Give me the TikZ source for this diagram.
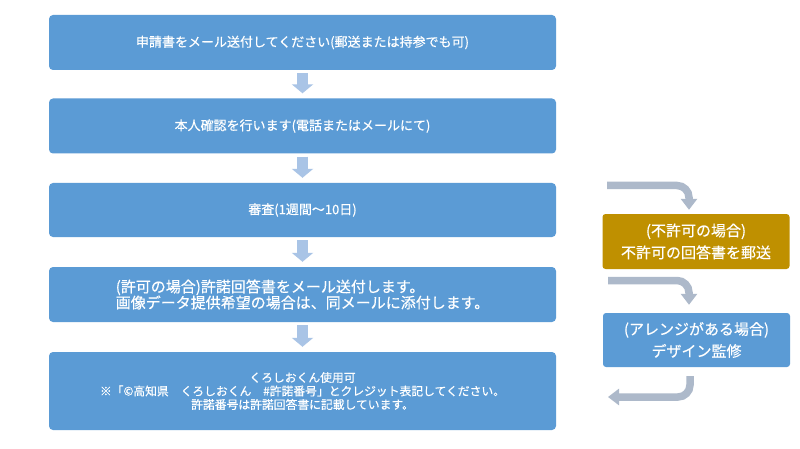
\documentclass[tikz,border=0pt]{standalone}
\usepackage{fontspec}
\newfontfamily\jp[FakeBold=0.4]{Noto Sans CJK JP}
\usetikzlibrary{arrows.meta}
\definecolor{boxblue}{HTML}{5B9BD5}
\definecolor{boxgold}{HTML}{BF9000}
\definecolor{downarr}{HTML}{A9C4E6}
\definecolor{sidearr}{HTML}{ADB9CA}
\begin{document}
\begin{tikzpicture}[x=1pt,y=-1pt,
  stepbox/.style={rectangle, rounded corners=4pt, fill=boxblue, text=white, inner sep=0pt,
    minimum width=507pt, align=center, font=\jp\fontsize{13}{16}\selectfont},
  sidebox/.style={rectangle, rounded corners=3pt, text=white, inner sep=0pt,
    minimum width=187pt, minimum height=54pt, align=center, font=\jp\fontsize{15}{22}\selectfont},
  downarrow/.style={draw=downarr, line width=11pt, -{Triangle[length=9pt,width=21pt]},
    shorten <=3pt, shorten >=5pt},
  sidearrow/.style={draw=sidearr, line width=7.5pt, rounded corners=12pt,
    -{Triangle[length=11pt,width=16pt]}}
]
\useasboundingbox[fill=white] (0,0) rectangle (800,449);

\node[stepbox, minimum height=55pt] (b1) at (302.5,42.5) {申請書をメール送付してください(郵送または持参でも可)};
\node[stepbox, minimum height=55pt] (b2) at (302.5,126) {本人確認を行います(電話またはメールにて)};
\node[stepbox, minimum height=54pt] (b3) at (302.5,210) {審査(1週間～10日)};
\node[stepbox, minimum height=55pt, align=left, font=\jp\fontsize{15}{16}\selectfont] (b4) at (302.5,294.5)
  {(許可の場合)許諾回答書をメール送付します。\\画像データ提供希望の場合は、同メールに添付します。};
\node[stepbox, minimum height=78pt, font=\jp\fontsize{11.8}{13.5}\selectfont] (b5) at (302.5,391)
  {くろしおくん使用可\\※「©高知県　くろしおくん　\#許諾番号」とクレジット表記してください。\\許諾番号は許諾回答書に記載しています。};

\node[sidebox, fill=boxgold, minimum height=55pt] (gold) at (696,241.5) {(不許可の場合)\\不許可の回答書を郵送};
\node[sidebox, fill=boxblue] (rblue) at (696.5,340) {(アレンジがある場合)\\デザイン監修};

\draw[downarrow] (b1.south) -- (b2.north);
\draw[downarrow] (b2.south) -- (b3.north);
\draw[downarrow] (b3.south) -- (b4.north);
\draw[downarrow] (b4.south) -- (b5.north);

\coordinate (s1) at (607,185.5);
\coordinate (s2) at (608,280.5);
\coordinate (e3) at (608,397);
\draw[sidearrow, shorten >=4pt] (s1) -| ([xshift=-7pt]gold.north);
\draw[sidearrow, shorten >=8pt] (s2) -| ([xshift=-7.5pt]rblue.north);
\draw[sidearrow, shorten <=9pt] ([xshift=-6.5pt]rblue.south) |- (e3);
\end{tikzpicture}
\end{document}
